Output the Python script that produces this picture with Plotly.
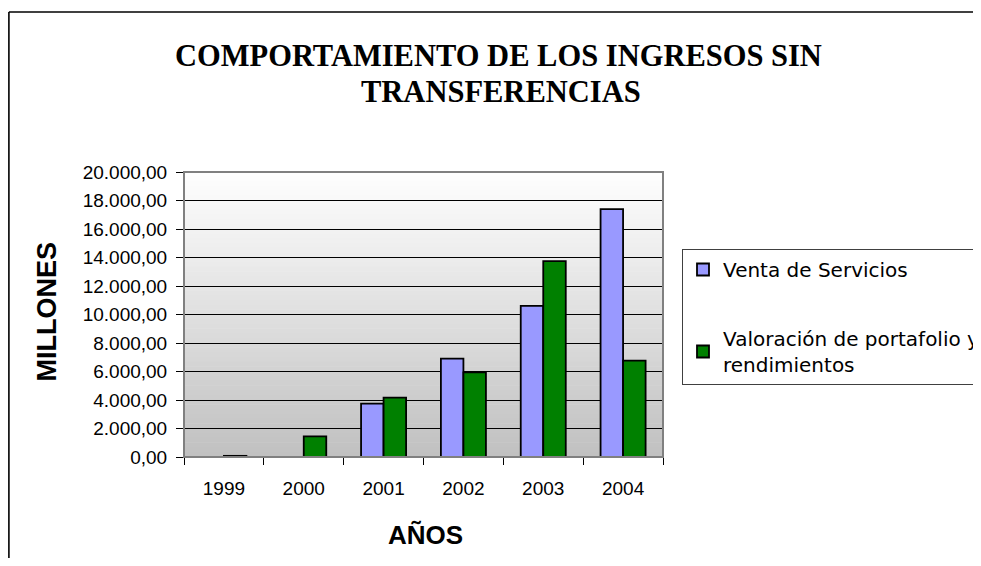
import plotly.graph_objects as go

years = ["1999", "2000", "2001", "2002", "2003", "2004"]
venta_servicios = [None, None, 3740, 6900, 10600, 17400]
valoracion_portafolio = [80, 1450, 4160, 5940, 13750, 6760]
series_names = ["Venta de Servicios", "Valoración de portafolio y<br>rendimientos"]
y_ticks = list(range(0, 20001, 2000))

# the page has an 8px body margin; keep the figure inside the window
# and work in page pixels, converting to paper coords
OFF = 8
W, H = 981 - OFF, 566 - 2 * OFF
L, R, T, B = 184 - OFF, 663 - OFF, 172 - OFF, 457 - OFF
PW, PH = R - L, B - T

def px(x):  # page x -> paper
    return (x - OFF - L) / PW

def py(y):  # page y -> paper
    return (B - (y - OFF)) / PH

FONT = "Arial, 'Liberation Sans', sans-serif"
LEGFONT = "'DejaVu Sans', Arial, sans-serif"
SERIF = "'Times New Roman', 'Liberation Serif', serif"

fig = go.Figure()
fig.add_trace(go.Bar(
    x=years, y=venta_servicios, name=series_names[0],
    marker=dict(color="#9999ff", line=dict(color="#000000", width=1.8)),
    legendgroup="a",
))
fig.add_trace(go.Bar(
    x=years, y=valoracion_portafolio, name=series_names[1],
    marker=dict(color="#008000", line=dict(color="#000000", width=1.8)),
    legendgroup="b",
))

shapes = []
n = 60
for i in range(n):
    f = (i + 0.5) / n
    c = int(round(255 - 63 * f))
    shapes.append(dict(type="rect", xref="paper", yref="paper",
                       x0=0, x1=1, y0=1 - (i + 1) / n, y1=1 - i / n + 0.002,
                       fillcolor=f"rgb({c},{c},{c})", line=dict(width=0),
                       layer="below"))
shapes.append(dict(type="rect", xref="paper", yref="paper", x0=0, x1=1, y0=0, y1=1,
                   line=dict(color="#808080", width=2), fillcolor="rgba(0,0,0,0)",
                   layer="above"))
# outer chart frame: only its left and top edges fall inside the picture
fx0 = (0.9 - L) / PW
fx1 = (W - L) / PW
fy_top = py(12)
fy_bot = (B - H) / PH
shapes.append(dict(type="line", xref="paper", yref="paper",
                   x0=fx0, x1=fx1, y0=fy_top, y1=fy_top,
                   line=dict(color="#000000", width=1.6), layer="above"))
shapes.append(dict(type="line", xref="paper", yref="paper",
                   x0=fx0, x1=fx0, y0=fy_top, y1=fy_bot,
                   line=dict(color="#000000", width=1.6), layer="above"))

annotations = [
    dict(text="<b>COMPORTAMIENTO DE LOS INGRESOS SIN</b>", x=px(498), y=py(56),
         xref="paper", yref="paper", showarrow=False, xanchor="center", yanchor="middle",
         font=dict(family=SERIF, size=30.5, color="#000")),
    dict(text="<b>TRANSFERENCIAS</b>", x=px(501), y=py(92),
         xref="paper", yref="paper", showarrow=False, xanchor="center", yanchor="middle",
         font=dict(family=SERIF, size=30.5, color="#000")),
    dict(text="<b>MILLONES</b>", x=px(46.5), y=py(312), textangle=-90,
         xref="paper", yref="paper", showarrow=False, xanchor="center", yanchor="middle",
         font=dict(family=FONT, size=27, color="#000")),
    dict(text="<b>AÑOS</b>", x=px(425), y=py(535),
         xref="paper", yref="paper", showarrow=False, xanchor="center", yanchor="middle",
         font=dict(family=FONT, size=26, color="#000")),
]

fig.update_layout(
    width=W, height=H,
    margin=dict(l=L, r=W - R, t=T, b=H - B, autoexpand=False),
    paper_bgcolor="#ffffff", plot_bgcolor="rgba(0,0,0,0)",
    separators=",.",
    barmode="group", bargap=0.436, bargroupgap=0,
    showlegend=True,
    legend=dict(x=px(682), y=py(249), xanchor="left", yanchor="top",
                xref="paper", yref="paper",
                bgcolor="#ffffff", bordercolor="#404040", borderwidth=1,
                font=dict(family=LEGFONT, size=20, color="#000"),
                tracegroupgap=40, traceorder="grouped", itemwidth=30),
    shapes=shapes,
    annotations=annotations,
    xaxis=dict(type="category", tickson="boundaries", ticks="outside", ticklen=7,
               tickcolor="#000", showline=True, linecolor="#000", linewidth=1,
               showgrid=False, tickfont=dict(family=FONT, size=19, color="#000"),
               ticklabelstandoff=14, fixedrange=True),
    yaxis=dict(range=[0, 20000], tickvals=y_ticks, tickformat=",.2f",
               ticks="outside", ticklen=7, tickcolor="#000",
               showline=True, linecolor="#000", linewidth=1,
               showgrid=True, gridcolor="#000000", gridwidth=1,
               tickfont=dict(family=FONT, size=19, color="#000"),
               ticklabelstandoff=5, zeroline=False, fixedrange=True),
)

fig.write_html("out.html")
